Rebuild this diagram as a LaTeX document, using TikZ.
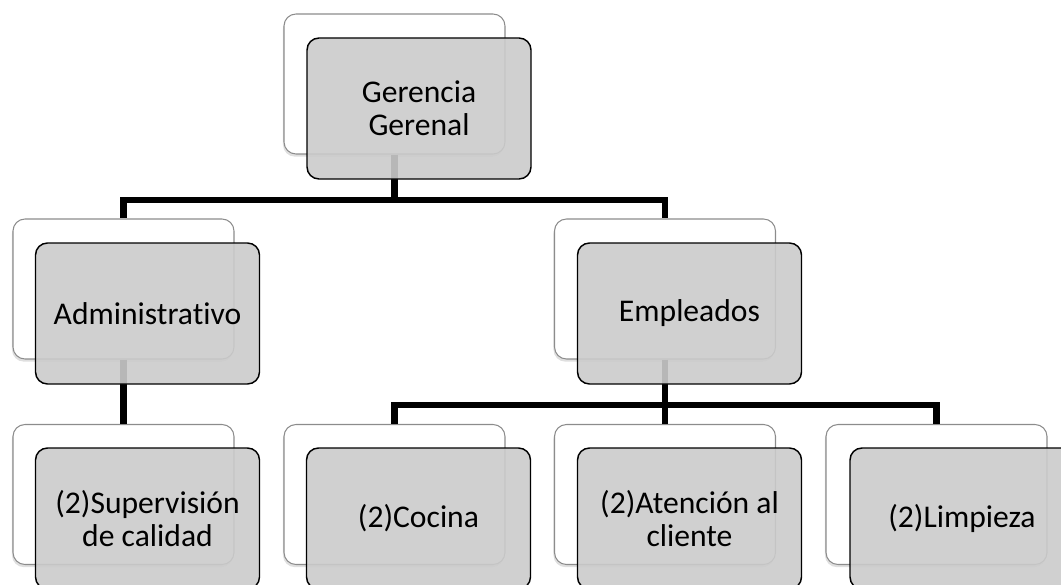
\documentclass[tikz,border=0pt]{standalone}
\usepackage{fontspec}
\setmainfont[Ligatures=NoCommon]{Carlito}
\usetikzlibrary{shadows}
\definecolor{boxgrey}{RGB}{203,203,203}
\definecolor{backedge}{RGB}{140,140,140}
\tikzset{
  backbox/.style={draw=backedge, line width=0.8pt, fill=white, rounded corners=9pt,
    minimum width=165.75pt, minimum height=105pt, inner sep=0pt,
    drop shadow={shadow xshift=-0.8pt, shadow yshift=-2pt, opacity=0.25}},
  frontbox/.style={draw=black, line width=1.1pt, fill=boxgrey, fill opacity=0.9,
    text opacity=1, rounded corners=9pt, minimum width=168pt, minimum height=105.75pt,
    inner sep=0pt, align=center,
    font=\fontsize{23.7pt}{24.75pt}\selectfont},
  link/.style={draw=black, line width=4.6pt, line join=miter}
}
\begin{document}
\begin{tikzpicture}[x=0.75pt, y=-0.75pt]
\useasboundingbox (0,0) rectangle (1061,585);
\clip (0,0) rectangle (1061,585);
% back cards
\node[backbox] (gerb) at (394.5,84) {};
\node[backbox] (admb) at (123.5,289) {};
\node[backbox] (empb) at (665,289) {};
\node[backbox] (supb) at (123.5,494.5) {};
\node[backbox] (cocb) at (394.5,494.5) {};
\node[backbox] (ateb) at (665,494.5) {};
\node[backbox] (limb) at (936.5,494.5) {};
% connectors
\coordinate (h1) at (394.5,200);
\coordinate (h2) at (665,405);
\draw[link] (gerb.south) -- (h1);
\draw[link] (h1) -| (admb.north);
\draw[link] (h1) -| (empb.north);
\draw[link] (admb.south) -- (supb.north);
\draw[link] (empb.south) -- (h2);
\draw[link] (h2) -| (cocb.north);
\draw[link] (h2) -- (ateb.north);
\draw[link] (h2) -| (limb.north);
% front cards
\node[frontbox] (ger) at (419,108.5) {Gerencia\\Gerenal};
\node[frontbox] (adm) at (147.5,313.5) {Administrativo};
\node[frontbox] (emp) at (689.5,313.5) {Empleados};
\node[frontbox] (sup) at (147.5,518.5) {(2)Supervisión\\de calidad};
\node[frontbox] (coc) at (418.5,518.5) {(2)Cocina};
\node[frontbox] (ate) at (689.5,518.5) {(2)Atención al\\cliente};
\node[frontbox] (lim) at (962,518.5) {(2)Limpieza};
\end{tikzpicture}
\end{document}
